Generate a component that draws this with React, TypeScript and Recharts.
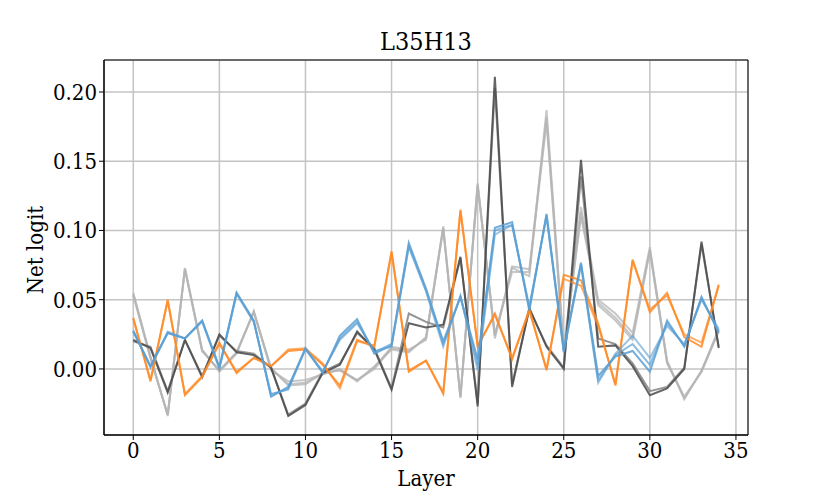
import { LineChart, Line, XAxis, YAxis, CartesianGrid, ReferenceArea } from 'recharts';

const layers = [0, 1, 2, 3, 4, 5, 6, 7, 8, 9, 10, 11, 12, 13, 14, 15, 16, 17, 18, 19, 20, 21, 22, 23, 24, 25, 26, 27, 28, 29, 30, 31, 32, 33, 34];

const orangeA = [0.037, -0.009, 0.050, -0.019, -0.006, 0.019, -0.003, 0.008, 0.002, 0.013, 0.014, 0.003, -0.012, 0.021, 0.016, 0.085, -0.002, 0.006, -0.018, 0.115, 0.016, 0.040, 0.007, 0.043, -0.001, 0.068, 0.064, 0.033, -0.012, 0.079, 0.041, 0.055, 0.023, 0.016, 0.061];
const orangeB = [0.036, -0.008, 0.049, -0.018, -0.005, 0.018, -0.002, 0.008, 0.002, 0.014, 0.015, 0.004, -0.014, 0.020, 0.017, 0.084, -0.001, 0.006, -0.017, 0.114, 0.017, 0.039, 0.008, 0.042, 0.000, 0.065, 0.060, 0.031, -0.011, 0.078, 0.043, 0.053, 0.025, 0.019, 0.060];

const blueA = [0.027, 0.002, 0.026, 0.022, 0.035, 0.001, 0.055, 0.035, -0.020, -0.013, 0.015, -0.003, 0.024, 0.036, 0.011, 0.017, 0.091, 0.058, 0.020, 0.052, 0.007, 0.102, 0.106, 0.042, 0.112, 0.014, 0.076, -0.005, 0.009, 0.013, -0.002, 0.035, 0.016, 0.052, 0.026];
const blueB = [0.027, 0.002, 0.026, 0.022, 0.035, 0.001, 0.055, 0.034, -0.018, -0.015, 0.015, -0.002, 0.022, 0.034, 0.012, 0.018, 0.089, 0.057, 0.018, 0.052, 0.003, 0.100, 0.104, 0.044, 0.111, 0.013, 0.077, -0.008, 0.010, 0.018, 0.003, 0.033, 0.017, 0.051, 0.027];
const blueC = [0.028, 0.001, 0.027, 0.022, 0.034, 0.000, 0.054, 0.034, -0.019, -0.014, 0.014, -0.002, 0.021, 0.033, 0.013, 0.016, 0.088, 0.056, 0.016, 0.053, -0.001, 0.097, 0.104, 0.045, 0.110, 0.012, 0.075, -0.010, 0.011, 0.024, 0.008, 0.031, 0.018, 0.050, 0.029];

const lightA = [0.055, 0.009, -0.034, 0.073, 0.014, -0.002, 0.011, 0.042, -0.001, -0.009, -0.008, -0.004, 0.000, -0.009, 0.002, 0.014, 0.012, 0.023, 0.103, -0.021, 0.134, 0.022, 0.073, 0.067, 0.187, 0.015, 0.117, 0.050, 0.040, 0.026, 0.088, 0.006, -0.022, -0.001, 0.028];
const lightB = [0.054, 0.008, -0.033, 0.072, 0.013, -0.001, 0.012, 0.041, 0.000, -0.011, -0.010, -0.003, -0.001, -0.008, 0.000, 0.015, 0.013, 0.022, 0.101, -0.020, 0.132, 0.025, 0.070, 0.070, 0.178, 0.013, 0.110, 0.048, 0.037, 0.023, 0.086, 0.004, -0.020, -0.002, 0.027];
const lightC = [0.053, 0.008, -0.033, 0.072, 0.013, -0.001, 0.012, 0.041, 0.001, -0.012, -0.011, -0.003, -0.001, -0.008, 0.001, 0.016, 0.014, 0.021, 0.102, -0.020, 0.133, 0.024, 0.074, 0.072, 0.182, 0.012, 0.113, 0.046, 0.035, 0.021, 0.085, 0.005, -0.021, -0.002, 0.029];

const darkA = [0.021, 0.015, -0.017, 0.021, -0.006, 0.025, 0.012, 0.010, 0.001, -0.034, -0.026, -0.003, 0.003, 0.027, 0.014, -0.015, 0.033, 0.030, 0.032, 0.081, -0.027, 0.211, -0.013, 0.044, 0.016, 0.000, 0.151, 0.016, 0.017, 0.002, -0.019, -0.014, 0.000, 0.092, 0.015];
const darkB = [0.020, 0.016, -0.016, 0.021, -0.005, 0.024, 0.013, 0.011, 0.001, -0.033, -0.025, -0.002, 0.004, 0.026, 0.015, -0.014, 0.040, 0.034, 0.030, 0.080, -0.025, 0.203, -0.011, 0.043, 0.017, 0.001, 0.139, 0.022, 0.018, 0.004, -0.016, -0.013, 0.001, 0.090, 0.016];

const yTicks = [0, 0.05, 0.1, 0.15, 0.2];
const xTicks = [0, 5, 10, 15, 20, 25, 30, 35];

const data = layers.map((layer, i) => ({
  layer,
  orangeA: orangeA[i],
  orangeB: orangeB[i],
  blueA: blueA[i],
  blueB: blueB[i],
  blueC: blueC[i],
  lightA: lightA[i],
  lightB: lightB[i],
  lightC: lightC[i],
  darkA: darkA[i],
  darkB: darkB[i],
}));

const font = '"DejaVu Serif Condensed", "DejaVu Serif", serif';
const tickStyle = { fontFamily: font, fontStretch: 'condensed', fontSize: 22, fill: '#000' };
const textStyle = { fontFamily: font, fontStretch: 'condensed' as const };

const series = [
  { key: 'lightA', color: '#b4b4b4', opacity: 0.75 },
  { key: 'lightB', color: '#b4b4b4', opacity: 0.75 },
  { key: 'lightC', color: '#b4b4b4', opacity: 0.75 },
  { key: 'darkB', color: '#7a7a7a', opacity: 0.8 },
  { key: 'darkA', color: '#4a4a4a', opacity: 0.85 },
  { key: 'orangeB', color: '#ff8a24', opacity: 0.7 },
  { key: 'orangeA', color: '#ff8a24', opacity: 0.85 },
  { key: 'blueC', color: '#5a9fd4', opacity: 0.6 },
  { key: 'blueB', color: '#5a9fd4', opacity: 0.7 },
  { key: 'blueA', color: '#5a9fd4', opacity: 0.85 },
];

export default function App() {
  return (
    <div style={{ position: 'absolute', left: 0, top: 0, width: 830, height: 498, background: '#fff' }}>
      <div style={{ ...textStyle, position: 'absolute', left: 104, width: 644, top: 27, textAlign: 'center', fontSize: 25, lineHeight: '30px' }}>
        L35H13
      </div>
      <div
        style={{
          ...textStyle,
          position: 'absolute',
          left: 35,
          top: 250,
          transform: 'translate(-50%, -50%) rotate(-90deg)',
          fontSize: 22,
          whiteSpace: 'nowrap',
        }}
      >
        Net logit
      </div>
      <div style={{ ...textStyle, position: 'absolute', left: 104, width: 644, top: 465, textAlign: 'center', fontSize: 22, lineHeight: '28px' }}>
        Layer
      </div>
      <LineChart width={830} height={498} data={data} margin={{ top: 60, right: 82, bottom: 33, left: 44 }}>
        <CartesianGrid stroke="#c4c4c4" strokeWidth={1.5} />
        <XAxis
          dataKey="layer"
          type="number"
          domain={[-1.7, 35.7]}
          ticks={xTicks}
          interval={0}
          allowDataOverflow
          height={30}
          tick={tickStyle}
          tickSize={5}
          stroke="#000"
        />
        <YAxis
          type="number"
          domain={[-0.0477, 0.2231]}
          ticks={yTicks}
          interval={0}
          allowDataOverflow
          width={60}
          tick={tickStyle}
          tickSize={5}
          tickFormatter={(v: number) => v.toFixed(2)}
          stroke="#000"
        />
        {series.map((s) => (
          <Line
            key={s.key}
            type="linear"
            dataKey={s.key}
            stroke={s.color}
            strokeOpacity={s.opacity}
            strokeWidth={2}
            dot={false}
            activeDot={false}
            isAnimationActive={false}
          />
        ))}
        <ReferenceArea x1={-1.7} x2={35.7} y1={-0.0477} y2={0.2231} fill="none" stroke="#000" strokeWidth={1} ifOverflow="extendDomain" />
      </LineChart>
    </div>
  );
}
